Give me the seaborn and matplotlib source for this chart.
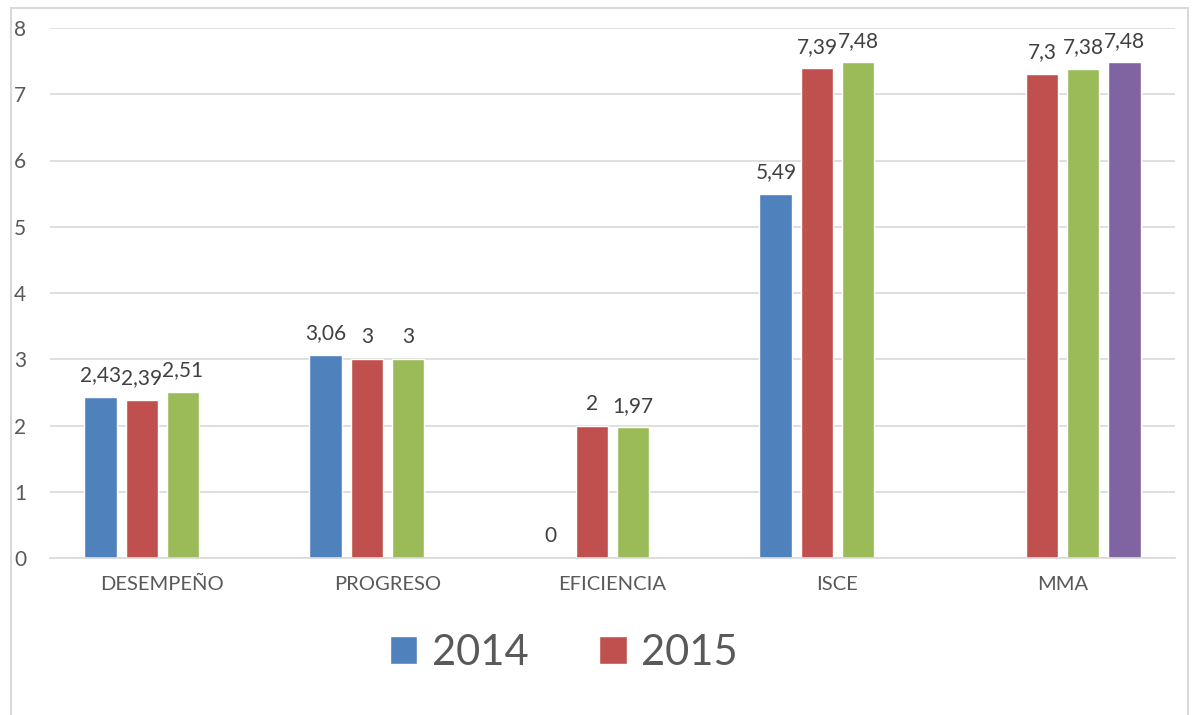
import matplotlib
matplotlib.use("Agg")
import matplotlib.pyplot as plt
from matplotlib.patches import Patch, Rectangle
import seaborn as sns
import pandas as pd
import numpy as np

categories = ["DESEMPEÑO", "PROGRESO", "EFICIENCIA", "ISCE", "MMA"]
series_names = ["2014", "2015", "S3", "S4"]
values_2014 = [2.43, 3.06, 0, 5.49, None]
values_2015 = [2.39, 3, 2, 7.39, 7.3]
values_s3 = [2.51, 3, 1.97, 7.48, 7.38]
values_s4 = [None, None, None, None, 7.48]
colors = ["#4F81BD", "#C0504D", "#9BBB59", "#8064A2"]
yticks = [0, 1, 2, 3, 4, 5, 6, 7, 8]

rows = []
for name, vals in zip(series_names, [values_2014, values_2015, values_s3, values_s4]):
    for c, v in zip(categories, vals):
        if v is not None:
            rows.append({"cat": c, "serie": name, "val": v})
df = pd.DataFrame(rows)

sns.set_theme(style="white")
plt.rcParams["font.family"] = ["Lato", "DejaVu Sans"]

fig = plt.figure(figsize=(11.94, 7.15), dpi=100)
ax = fig.add_axes([50/1194, 1-558/715, 1125/1194, 530/715])

sns.barplot(data=df, x="cat", y="val", hue="serie", order=categories,
            hue_order=series_names, palette=colors, width=0.73, gap=0.2,
            errorbar=None, ax=ax, legend=False, saturation=1)

for cont in ax.containers:
    labels = []
    for v in cont.datavalues:
        s = ("%g" % v).replace(".", ",")
        labels.append(s)
    ax.bar_label(cont, labels=labels, padding=8.5, fontsize=15, color="#404040")

ax.set_ylim(0, 8)
ax.set_yticks(yticks)
ax.set_xlim(-0.5, 4.5)
ax.yaxis.grid(True, color="#D9D9D9", linewidth=1.2)
ax.set_axisbelow(True)
for s in ["left", "right", "top"]:
    ax.spines[s].set_visible(False)
ax.spines["bottom"].set_color("#D9D9D9")
ax.spines["bottom"].set_linewidth(1.2)
ax.tick_params(axis="y", length=0, pad=17, labelsize=15, labelcolor="#595959")
ax.tick_params(axis="x", length=0, pad=13, labelsize=14.5, labelcolor="#595959")
ax.set_xlabel("")
ax.set_ylabel("")

handles = [Patch(facecolor=colors[0], label="2014"), Patch(facecolor=colors[1], label="2015")]
fig.legend(handles=handles, loc="center", bbox_to_anchor=(564/1194, 1-653/715), ncol=2,
           frameon=False, fontsize=30, labelcolor="#595959", handlelength=0.65,
           handleheight=0.65, handletextpad=0.35, columnspacing=1.7)

fig.add_artist(Rectangle((11/1194, -0.1), (1188-11)/1194, 1.1 - 8/715, transform=fig.transFigure,
                         fill=False, edgecolor="#D9D9D9", linewidth=1.5))

fig.savefig("out.png", dpi=100, facecolor="white")
